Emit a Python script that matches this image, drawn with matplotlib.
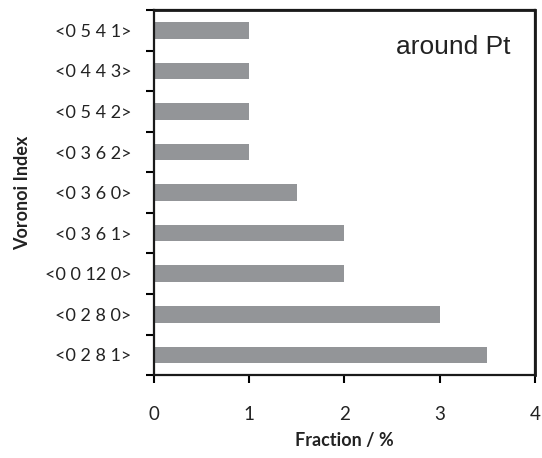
import numpy as np
import matplotlib
matplotlib.use("Agg")
import matplotlib.pyplot as plt
from matplotlib.lines import Line2D

# Voronoi indices around Pt, bottom to top
labels = ["<0 2 8 1>", "<0 2 8 0>", "<0 0 12 0>", "<0 3 6 1>", "<0 3 6 0>",
          "<0 3 6 2>", "<0 5 4 2>", "<0 4 4 3>", "<0 5 4 1>"]
fractions = [3.5, 3.0, 2.0, 2.0, 1.5, 1.0, 1.0, 1.0, 1.0]

plt.rcParams['font.family'] = ['Lato', 'DejaVu Sans']
plt.rcParams['axes.spines.top'] = True
plt.rcParams['axes.spines.right'] = True

fig = plt.figure(figsize=(5.42, 4.58), dpi=100)
L, B, W, H = 0.284, 0.181, 0.703, 0.797
ax = fig.add_axes([L, B, W, H])

y = np.arange(len(labels))
ax.barh(y, fractions, height=0.41, color='#939598')

ax.set_xlim(0, 4)
ax.set_ylim(-0.5, len(labels) - 0.5)
ax.set_xticks([0, 1, 2, 3, 4])

# ticks at category boundaries, labels centered
ax.set_yticks(np.arange(-0.5, len(labels)), minor=False)
ax.set_yticklabels([])
ax.set_yticks(y, minor=True)
ax.set_yticklabels(labels, minor=True, fontsize=13, color='#222222')
ax.tick_params(axis='y', which='minor', length=0, pad=16)
ax.tick_params(axis='y', which='major', direction='out', length=6, width=1.5)
ax.tick_params(axis='x', direction='out', length=6, width=1.5, pad=16,
               labelsize=13.5, labelcolor='#222222')

for side in ['left', 'right', 'top', 'bottom']:
    ax.spines[side].set_visible(True)
    ax.spines[side].set_linewidth(1.6)
    ax.spines[side].set_color('#1a1a1a')

# top and right edges of the frame, drawn on the figure
fig.add_artist(Line2D([L, L + W, L + W], [B + H, B + H, B],
                      transform=fig.transFigure, color='#1a1a1a', lw=2.0,
                      solid_joinstyle='miter', zorder=10))

ax.set_xlabel('Fraction / %', fontsize=13, fontweight='bold', labelpad=7,
              color='#222222')
ax.set_ylabel('Voronoi Index', fontsize=13, fontweight='bold', labelpad=10,
              color='#222222')

ax.text(0.935, 0.9, 'around Pt', transform=ax.transAxes, ha='right', va='center',
        fontsize=19, family='Liberation Sans', color='#222222')

fig.savefig('out.png', dpi=100)
